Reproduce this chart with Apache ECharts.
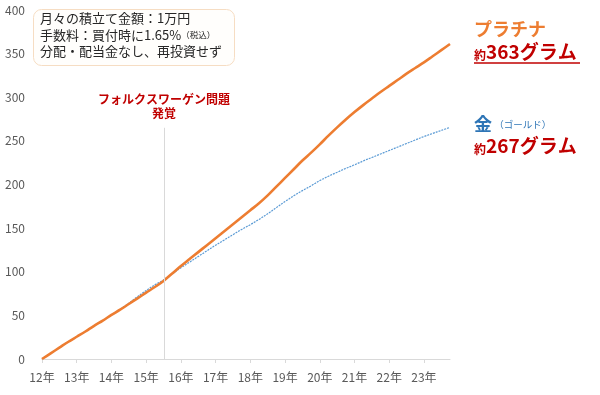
<!DOCTYPE html>
<html><head><meta charset="utf-8">
<script src="https://cdn.jsdelivr.net/npm/echarts@6/dist/echarts.min.js"></script>
<style>html,body{margin:0;padding:0;background:#fff}#c{width:600px;height:395px}</style>
</head><body><div id="c"></div>
<script>
// Time points (fractional years) and accumulated grams
const years = [2012.0,2012.25,2012.5,2012.75,2013.0,2013.25,2013.5,2013.75,2014.0,2014.25,2014.5,2014.75,2015.0,2015.25,2015.5,2015.75,2016.0,2016.25,2016.5,2016.75,2017.0,2017.25,2017.5,2017.75,2018.0,2018.25,2018.5,2018.75,2019.0,2019.25,2019.5,2019.75,2020.0,2020.25,2020.5,2020.75,2021.0,2021.25,2021.5,2021.75,2022.0,2022.25,2022.5,2022.75,2023.0,2023.25,2023.5,2023.75];
const platinumGrams = [0,6.5,13,19.5,25.5,31.5,38,44,50.5,56.5,63,69.5,76,82.5,89.5,98,106.5,114.5,122.5,130.5,138.5,146.5,154.5,162.5,170.5,178.5,187.5,197.5,207.5,217.5,227.5,236.5,246,256,265.5,274.5,283,291,298.5,306,313,320,327,333.5,340,347,354,361];
const goldGrams = [0,6.5,13,19.5,25.5,31.5,38,44,50.5,57,64,71.5,78.5,85,90.5,97.5,104.5,111,117.5,124,130.5,136.5,142.5,148.5,154,160,166.5,173.5,180.5,187,193,198.5,204.5,209.5,214,218.5,222.5,227,231,235,239,243,247,251,255,258.5,262,265.5];
const yearTicks = {min: 2012, max: 2023.75, interval: 1};
const yTicks = {min: 0, max: 400, interval: 50};
const vwYear = 2015.52;
const vwTop = 265;

const chart = echarts.init(document.getElementById('c'), null, {renderer: 'canvas'});
const FONT = '"Noto Sans CJK JP", "Noto Sans", sans-serif';
const pairs = (xs, ys) => xs.map((x, i) => [x, ys[i]]);

chart.setOption({
  animation: false,
  textStyle: {fontFamily: FONT},
  grid: {left: 42, right: 150, top: 10, bottom: 36},
  xAxis: {
    type: 'value', min: yearTicks.min, max: yearTicks.max, interval: yearTicks.interval,
    axisLine: {show: true, lineStyle: {color: '#d9d9d9'}},
    axisTick: {show: true, length: 4, lineStyle: {color: '#d9d9d9'}},
    splitLine: {show: false},
    axisLabel: {color: '#595959', fontSize: 12, margin: 12, fontFamily: FONT, showMaxLabel: false,
      formatter: v => Number.isInteger(v) ? String(v % 100) + '年' : ''}
  },
  yAxis: {
    type: 'value', min: yTicks.min, max: yTicks.max, interval: yTicks.interval,
    axisLine: {show: false}, axisTick: {show: false}, splitLine: {show: false},
    axisLabel: {color: '#595959', fontSize: 12, margin: 17, fontFamily: FONT}
  },
  series: [
    {
      name: '金', type: 'line', data: pairs(years, goldGrams), showSymbol: false, smooth: 0.35,
      lineStyle: {color: '#5B9BD5', width: 1.2, type: [2, 1]}, z: 2,
      markLine: {
        silent: true, symbol: 'none', label: {show: false},
        lineStyle: {color: '#d9d9d9', width: 1, type: 'solid'},
        data: [[{coord: [vwYear, 0]}, {coord: [vwYear, vwTop]}]]
      }
    },
    {
      name: 'プラチナ', type: 'line', data: pairs(years, platinumGrams), showSymbol: false, smooth: 0.35,
      lineStyle: {color: '#ED7D31', width: 2.6}, z: 3
    }
  ],
  graphic: [
    {type: 'rect', left: 33, top: 9, shape: {width: 201, height: 56, r: 8},
      style: {fill: '#fffefc', stroke: '#F6DDC3', lineWidth: 1}, z: 10},
    {type: 'text', left: 40, top: 12, z: 11, style: {
      text: '{a|月々の積立て金額：1万円}\n{a|手数料：買付時に1.65%}{s|（税込）}\n{a|分配・配当金なし、再投資せず}',
      rich: {a: {fontSize: 13, fill: '#262626', fontFamily: FONT, lineHeight: 16.5},
             s: {fontSize: 8.5, fill: '#262626', fontFamily: FONT, lineHeight: 16.5}},
      fontFamily: FONT}},
    {type: 'text', z: 11, style: {
      x: 164, y: 92, textAlign: 'center', textVerticalAlign: 'top',
      text: 'フォルクスワーゲン問題\n発覚', fill: '#C00000', fontSize: 12, fontWeight: 'bold',
      fontFamily: FONT, lineHeight: 14}},
    {type: 'text', left: 474, top: 20, z: 11, style: {
      text: 'プラチナ', fill: '#ED7D31', fontSize: 18, fontWeight: 'bold', fontFamily: FONT}},
    {type: 'text', left: 474, top: 42, z: 11, style: {
      text: '{k|約}{n|363グラム}',
      rich: {k: {fontSize: 12, fontWeight: 'bold', fill: '#C00000', fontFamily: FONT, verticalAlign: 'bottom'},
             n: {fontSize: 19, fontWeight: 'bold', fill: '#C00000', fontFamily: FONT}}}},
    {type: 'line', z: 11, shape: {x1: 474, y1: 63, x2: 580, y2: 63}, style: {stroke: '#C00000', lineWidth: 1.5}},
    {type: 'text', left: 474, top: 115, z: 11, style: {
      text: '{g|金}{s| （ゴールド）}',
      rich: {g: {fontSize: 18, fontWeight: 'bold', fill: '#2E75B6', fontFamily: FONT},
             s: {fontSize: 9.5, fill: '#2E75B6', fontFamily: FONT}}}},
    {type: 'text', left: 474, top: 136, z: 11, style: {
      text: '{k|約}{n|267グラム}',
      rich: {k: {fontSize: 12, fontWeight: 'bold', fill: '#C00000', fontFamily: FONT, verticalAlign: 'bottom'},
             n: {fontSize: 19, fontWeight: 'bold', fill: '#C00000', fontFamily: FONT}}}}
  ]
});
</script></body></html>
